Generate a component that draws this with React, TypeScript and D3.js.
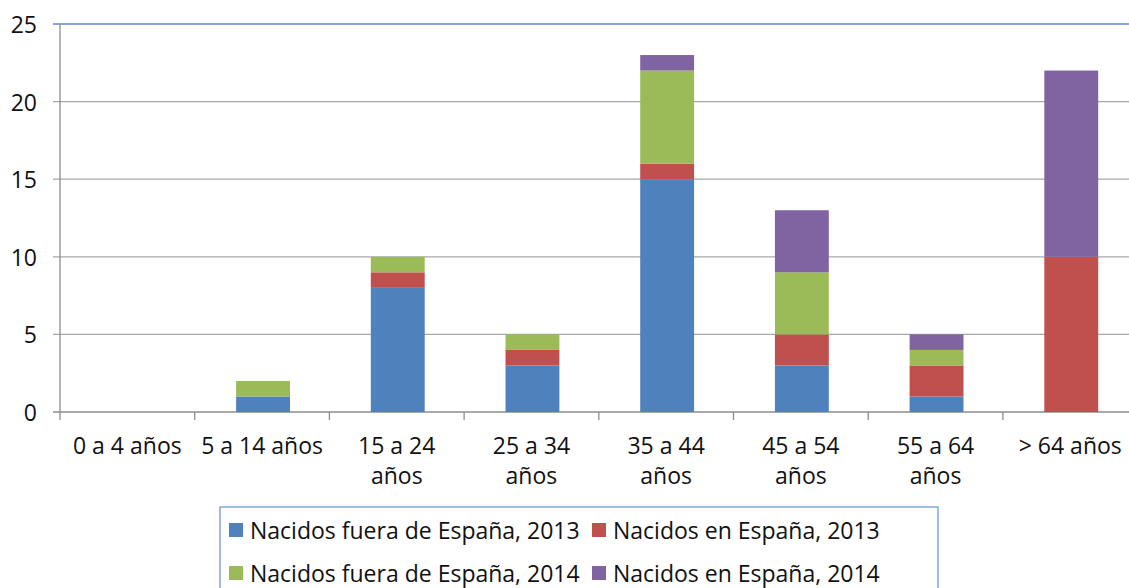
import React from "react";
import * as d3 from "d3";

const categories = ["0 a 4 años", "5 a 14 años", "15 a 24 años", "25 a 34 años", "35 a 44 años", "45 a 54 años", "55 a 64 años", "> 64 años"];
const categoryLines = [["0 a 4 años"], ["5 a 14 años"], ["15 a 24", "años"], ["25 a 34", "años"], ["35 a 44", "años"], ["45 a 54", "años"], ["55 a 64", "años"], ["> 64 años"]];
const seriesNames = ["Nacidos fuera de España, 2013", "Nacidos en España, 2013", "Nacidos fuera de España, 2014", "Nacidos en España, 2014"];
const seriesColors = ["#4F81BD", "#C0504D", "#9BBB59", "#8064A2"];
const fuera2013 = [0, 1, 8, 3, 15, 3, 1, 0];
const espana2013 = [0, 0, 1, 1, 1, 2, 2, 10];
const fuera2014 = [0, 1, 1, 1, 6, 4, 1, 0];
const espana2014 = [0, 0, 0, 0, 1, 4, 1, 12];
const yTicks = [0, 5, 10, 15, 20, 25];

const W = 1129, H = 588;
const FONT = "'Open Sans', 'Liberation Sans', sans-serif";

export default function App() {
  const left = 60, top = 24, bottom = 412;
  const step = 134.7;
  const right = left + step * categories.length;
  const x = d3.scaleBand<string>().domain(categories).range([left, right]).paddingInner(0.6).paddingOuter(0.3);
  const y = d3.scaleLinear().domain([0, 25]).range([bottom, top]);
  const rows = categories.map((c, i) => ({ cat: c, s0: fuera2013[i], s1: espana2013[i], s2: fuera2014[i], s3: espana2014[i] }));
  const stack = d3.stack<any>().keys(["s0", "s1", "s2", "s3"]);
  const layers = stack(rows);
  const bounds = d3.range(categories.length + 1).map((i) => left + i * x.step());

  const legendItems = [
    { name: seriesNames[0], color: seriesColors[0], lx: 229, ly: 530 },
    { name: seriesNames[1], color: seriesColors[1], lx: 592, ly: 530 },
    { name: seriesNames[2], color: seriesColors[2], lx: 229, ly: 573 },
    { name: seriesNames[3], color: seriesColors[3], lx: 592, ly: 573 },
  ];

  return (
    <svg width={W} height={H} style={{ position: "fixed", left: 0, top: 0, background: "#fff" }} fontFamily={FONT}>
      <rect x={0} y={0} width={W} height={H} fill="#fff" />
      {yTicks.map((t) => (
        <g key={t}>
          <line x1={53} x2={right} y1={y(t)} y2={y(t)} stroke={t === 25 ? "#5B8BD0" : t === 0 ? "#8C8C8C" : "#A8A8A8"} strokeWidth={t === 25 ? 1.5 : 1.3} />
          <text x={37} y={y(t)} textAnchor="end" dominantBaseline="central" fontSize={23} fill="#111">{t}</text>
        </g>
      ))}
      <line x1={left} x2={left} y1={top} y2={bottom} stroke="#8C8C8C" strokeWidth={1.3} />
      {bounds.map((bx, i) => (
        <line key={i} x1={bx} x2={bx} y1={bottom} y2={bottom + 8} stroke="#8C8C8C" strokeWidth={1.3} />
      ))}
      {layers.map((layer, li) => (
        <g key={li} fill={seriesColors[li]}>
          {layer.map((d, i) => (d[1] - d[0] > 0 ? (
            <rect key={i} x={(x(categories[i]) as number) + 1} width={x.bandwidth()} y={y(d[1])} height={y(d[0]) - y(d[1])} />
          ) : null))}
        </g>
      ))}
      {categories.map((c, i) => (
        <text key={c} x={(x(c) as number) + x.bandwidth() / 2} textAnchor="middle" fontSize={23} fill="#111">
          {categoryLines[i].map((ln, j) => (
            <tspan key={j} x={(x(c) as number) + x.bandwidth() / 2} y={445 + j * 30} dominantBaseline="central">{ln}</tspan>
          ))}
        </text>
      ))}
      <rect x={220} y={507} width={718} height={100} fill="#fff" stroke="#6E9BD6" strokeWidth={1.3} />
      {legendItems.map((it) => (
        <g key={it.name}>
          <rect x={it.lx} y={it.ly - 7} width={14} height={14} fill={it.color} />
          <text x={it.lx + 21} y={it.ly} dominantBaseline="central" fontSize={23} fill="#111">{it.name}</text>
        </g>
      ))}
    </svg>
  );
}
